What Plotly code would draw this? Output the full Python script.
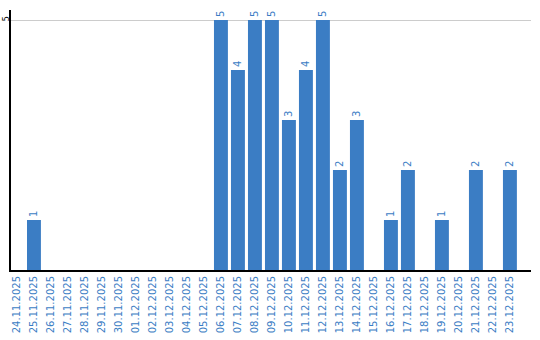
import plotly.graph_objects as go

dates = ["24.11.2025", "25.11.2025", "26.11.2025", "27.11.2025", "28.11.2025",
         "29.11.2025", "30.11.2025", "01.12.2025", "02.12.2025", "03.12.2025",
         "04.12.2025", "05.12.2025", "06.12.2025", "07.12.2025", "08.12.2025",
         "09.12.2025", "10.12.2025", "11.12.2025", "12.12.2025", "13.12.2025",
         "14.12.2025", "15.12.2025", "16.12.2025", "17.12.2025", "18.12.2025",
         "19.12.2025", "20.12.2025", "21.12.2025", "22.12.2025", "23.12.2025"]
counts = [0, 1, 0, 0, 0, 0, 0, 0, 0, 0,
          0, 0, 5, 4, 5, 5, 3, 4, 5, 2,
          3, 0, 1, 2, 0, 1, 0, 2, 0, 2]

blue = "#3b7dc4"
labels = [str(v) if v else "" for v in counts]

fig = go.Figure(go.Bar(
    x=dates, y=counts, text=labels, textposition="outside", textangle=-90,
    textfont=dict(color=blue, size=10, family="DejaVu Sans"),
    marker=dict(color=blue, line=dict(width=0)), cliponaxis=False,
))
fig.update_layout(
    width=540, height=340, margin=dict(l=11, r=9, t=10, b=70),
    plot_bgcolor="white", paper_bgcolor="white", bargap=0.18,
    showlegend=False, font=dict(family="DejaVu Sans"),
)
fig.update_xaxes(type="category", range=[-0.35, 30.24], tickangle=-90,
                 tickfont=dict(color=blue, size=10), showline=True,
                 linecolor="black", linewidth=2, showgrid=False, ticks="",
                 automargin=False)
fig.update_yaxes(range=[0, 5.2], tickvals=[5], ticktext=["5"], tickangle=-90,
                 tickfont=dict(color="black", size=8), showline=True,
                 linecolor="black", linewidth=2, showgrid=True,
                 gridcolor="#cccccc", gridwidth=1, zeroline=False, ticks="",
                 ticklabelstandoff=-3, automargin=False)
fig.write_html("out.html")
